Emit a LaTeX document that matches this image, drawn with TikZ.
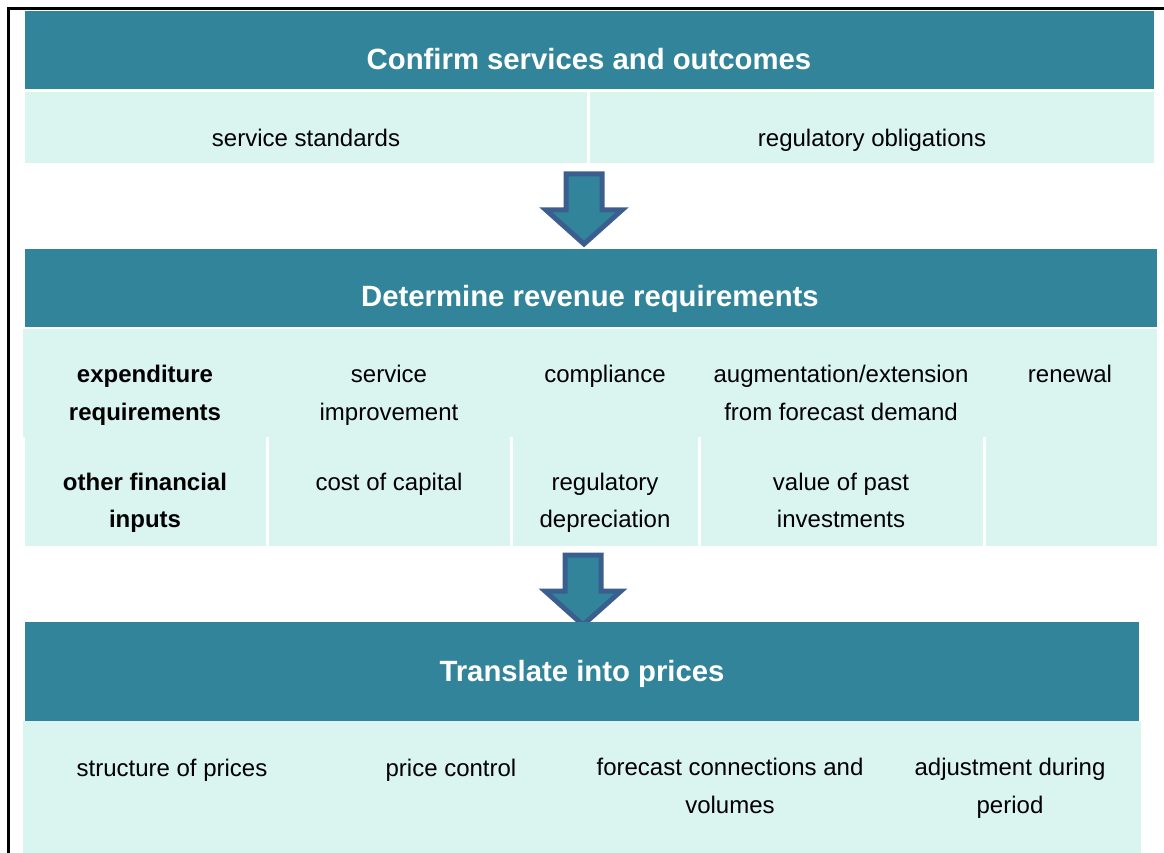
\documentclass[tikz,border=0pt]{standalone}
\usepackage{fontspec}
\setmainfont{Liberation Sans}
\usepackage{tikz}
\definecolor{headteal}{HTML}{32849B}
\definecolor{cellmint}{HTML}{DAF4F0}
\definecolor{arrowblue}{HTML}{3A5F8F}
\tikzset{
  headbox/.style={fill=headteal},
  cellbox/.style={fill=cellmint},
  headtxt/.style={text=white, anchor=base, inner sep=0pt, font=\fontsize{29.3}{35}\selectfont\bfseries},
  celltxt/.style={anchor=base, inner sep=0pt, align=center, font=\fontsize{24}{37.5}\selectfont},
  celltxtb/.style={celltxt, font=\fontsize{24}{37.5}\selectfont\bfseries},
  downarrow/.style={fill=headteal, draw=arrowblue, line width=5pt},
}

\begin{document}
\begin{tikzpicture}[x=1pt,y=-1pt]
  \useasboundingbox (0,0) rectangle (1164,853);
  \draw[line width=2.5pt] (8.5,853) -- (8.5,8.5) -- (1164,8.5);

  \fill[headbox] (25,11) rectangle (1154,89);
  \fill[cellbox] (25,92) rectangle (587,163);
  \fill[cellbox] (590,92) rectangle (1154,163);
  \node[headtxt] (confirm) at (589,69.5) {Confirm services and outcomes};
  \node[celltxt] (standards) at (306,147) {service standards};
  \node[celltxt] (obligations) at (872,147) {regulatory obligations};

  \coordinate (arrA) at (584,171);
  \draw[downarrow, shift={(arrA)}] (-18,3) -- (18,3) -- (18,39) -- (38,39)
    -- (0,73) -- (-38,39) -- (-18,39) -- cycle;

  \fill[headbox] (25,249) rectangle (1157,327);
  \fill[cellbox] (23,329) rectangle (1157,437);
  \fill[cellbox] (25,437) rectangle (266,546);
  \fill[cellbox] (269,437) rectangle (510,546);
  \fill[cellbox] (513,437) rectangle (698,546);
  \fill[cellbox] (701,437) rectangle (983,546);
  \fill[cellbox] (986,437) rectangle (1157,546);
  \node[headtxt] (revenue) at (590,306.5) {Determine revenue requirements};
  \node[celltxtb] (expend) at (145,420) {expenditure\\requirements};
  \node[celltxt] (improve) at (389,420) {service\\improvement};
  \node[celltxt] (comply) at (605,382.5) {compliance};
  \node[celltxt] (augment) at (841,420) {augmentation/extension\\from forecast demand};
  \node[celltxt] (renew) at (1070,382.5) {renewal};
  \node[celltxtb] (finance) at (145,527.5) {other financial\\inputs};
  \node[celltxt] (capital) at (389,490) {cost of capital};
  \node[celltxt] (deprec) at (605,527.5) {regulatory\\depreciation};
  \node[celltxt] (pastinv) at (841,527.5) {value of past\\investments};

  \coordinate (arrB) at (583,552);
  \draw[downarrow, shift={(arrB)}] (-18,3) -- (18,3) -- (18,39) -- (38,39)
    -- (0,73) -- (-38,39) -- (-18,39) -- cycle;

  \fill[headbox] (25,622) rectangle (1139,721);
  \fill[cellbox] (23,721) rectangle (1141,853);
  \node[headtxt] (prices) at (582,681) {Translate into prices};
  \node[celltxt] (structure) at (172,776) {structure of prices};
  \node[celltxt] (control) at (451,776) {price control};
  \node[celltxt] (volumes) at (730,813) {forecast connections and\\volumes};
  \node[celltxt] (adjust) at (1010,813) {adjustment during\\period};
\end{tikzpicture}
\end{document}
